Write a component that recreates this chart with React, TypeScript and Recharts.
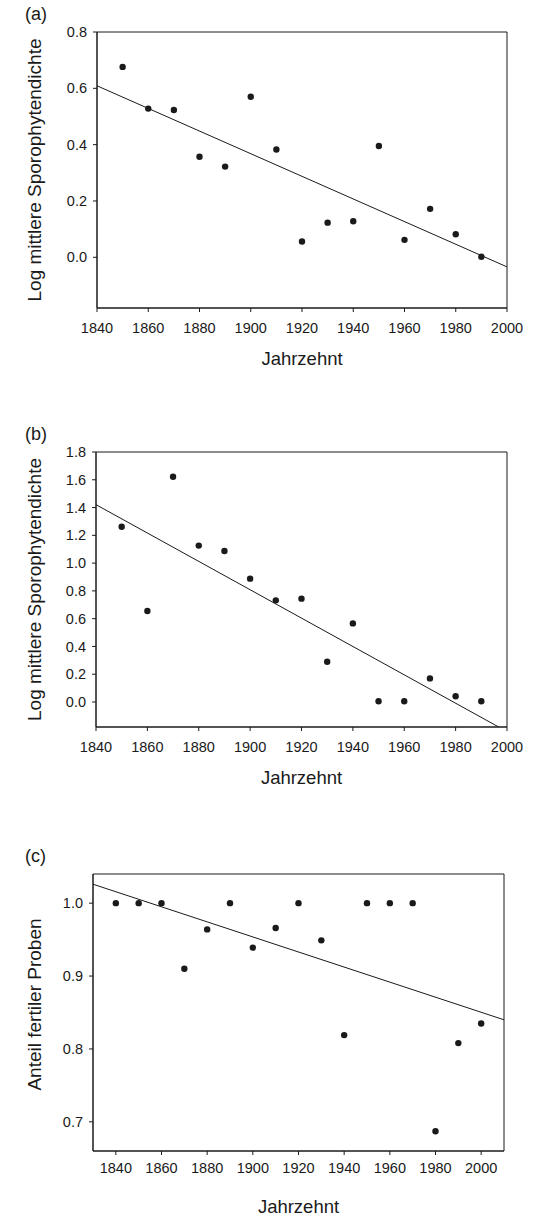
import React from 'react'
import {
  ScatterChart,
  Scatter,
  XAxis,
  YAxis,
  ReferenceLine,
  ReferenceArea,
  Label
} from 'recharts'

// panel (a)
const decadesA = [1850, 1860, 1870, 1880, 1890, 1900, 1910, 1920, 1930, 1940, 1950, 1960, 1970, 1980, 1990]
const densityA = [0.676, 0.528, 0.523, 0.357, 0.322, 0.57, 0.383, 0.056, 0.123, 0.128, 0.395, 0.062, 0.172, 0.082, 0.002]
const fitYearsA = [1840, 2000]
const fitValuesA = [0.609, -0.034]
const yTicksA = [0, 0.2, 0.4, 0.6, 0.8]

// panel (b)
const decadesB = [1850, 1860, 1870, 1880, 1890, 1900, 1910, 1920, 1930, 1940, 1950, 1960, 1970, 1980, 1990]
const densityB = [1.262, 0.655, 1.622, 1.126, 1.087, 0.888, 0.732, 0.744, 0.29, 0.566, 0.005, 0.005, 0.17, 0.041, 0.005]
const fitYearsB = [1840, 2000]
const fitValuesB = [1.421, -0.213]
const yTicksB = [0, 0.2, 0.4, 0.6, 0.8, 1.0, 1.2, 1.4, 1.6, 1.8]

// panel (c)
const decadesC = [1840, 1850, 1860, 1870, 1880, 1890, 1900, 1910, 1920, 1930, 1940, 1950, 1960, 1970, 1980, 1990, 2000]
const fertileC = [1.0, 1.0, 1.0, 0.91, 0.964, 1.0, 0.939, 0.966, 1.0, 0.949, 0.819, 1.0, 1.0, 1.0, 0.687, 0.808, 0.835]
const fitYearsC = [1830, 2010]
const fitValuesC = [1.026, 0.84]
const yTicksC = [0.7, 0.8, 0.9, 1.0]

const xTicks = [1840, 1860, 1880, 1900, 1920, 1940, 1960, 1980, 2000]

const FONT = '"Liberation Sans", Arial, sans-serif'
const INK = '#1a1a1a'

const Dot = (props: any) => <circle cx={props.cx} cy={props.cy} r={3.2} fill={INK} />

type PanelProps = {
  tag: string
  top: number
  yLabel: string
  xs: number[]
  ys: number[]
  fitX: number[]
  fitY: number[]
  xDomain: [number, number]
  yDomain: [number, number]
  yTicks: number[]
  plotLeft: number
  plotRight: number
  plotHeight: number
  xTickGap: number
  xLabelOffset: number
  yLabelShift: number
}

const Panel = (p: PanelProps) => {
  const data = p.xs.map((x, i) => ({ x, y: p.ys[i] }))
  const marginTop = 32
  const axisH = 70
  const yTitle = (props: any) => {
    const vb = props.viewBox || {}
    const cx = 34
    const cy = (vb.y ?? marginTop) + (vb.height ?? p.plotHeight) / 2 - p.yLabelShift
    return (
      <text
        x={cx}
        y={cy}
        transform={`rotate(-90, ${cx}, ${cy})`}
        textAnchor="middle"
        dominantBaseline="central"
        fontSize={19}
        fontFamily={FONT}
        fill={INK}
      >
        {p.yLabel}
      </text>
    )
  }
  return (
    <div style={{ position: 'absolute', left: 0, top: p.top }}>
      <div style={{ position: 'absolute', left: 25, top: 3, fontFamily: FONT, fontSize: 18, color: INK, lineHeight: '22px' }}>
        {p.tag}
      </div>
      <ScatterChart
        width={537}
        height={marginTop + p.plotHeight + axisH}
        margin={{ top: marginTop, right: 537 - p.plotRight, bottom: 0, left: 0 }}
      >
        <XAxis
          type="number"
          dataKey="x"
          domain={p.xDomain}
          ticks={xTicks}
          allowDataOverflow
          height={axisH}
          tickSize={4}
          tickMargin={p.xTickGap}
          stroke={INK}
          tick={{ fill: INK, fontSize: 14.5, fontFamily: FONT }}
        >
          <Label value="Jahrzehnt" position="insideBottom" offset={p.xLabelOffset} style={{ fontSize: 18.5, fontFamily: FONT, fill: INK }} />
        </XAxis>
        <YAxis
          type="number"
          dataKey="y"
          domain={p.yDomain}
          ticks={p.yTicks}
          allowDataOverflow
          width={p.plotLeft}
          tickSize={4}
          tickMargin={6}
          stroke={INK}
          tickFormatter={(v: number) => v.toFixed(1)}
          tick={{ fill: INK, fontSize: 14.5, fontFamily: FONT }}
        >
          <Label content={yTitle} />
        </YAxis>
        <ReferenceArea
          x1={p.xDomain[0]}
          x2={p.xDomain[1]}
          y1={p.yDomain[0]}
          y2={p.yDomain[1]}
          fill="none"
          stroke={INK}
          strokeWidth={1}
        />
        <ReferenceLine
          segment={[
            { x: p.fitX[0], y: p.fitY[0] },
            { x: p.fitX[1], y: p.fitY[1] }
          ]}
          stroke={INK}
          strokeWidth={1}
          ifOverflow="hidden"
        />
        <Scatter data={data} shape={Dot} isAnimationActive={false} />
      </ScatterChart>
    </div>
  )
}

export default function App() {
  return (
    <div style={{ position: 'absolute', left: 0, top: 0, width: 537, height: 1217, background: '#fff' }}>
      <Panel
        tag="(a)"
        top={0}
        yLabel="Log mittlere Sporophytendichte"
        xs={decadesA}
        ys={densityA}
        fitX={fitYearsA}
        fitY={fitValuesA}
        xDomain={[1840, 2000]}
        yDomain={[-0.18, 0.8]}
        yTicks={yTicksA}
        plotLeft={97}
        plotRight={507}
        plotHeight={276}
        xTickGap={11}
        xLabelOffset={13}
        yLabelShift={0}
      />
      <Panel
        tag="(b)"
        top={420}
        yLabel="Log mittlere Sporophytendichte"
        xs={decadesB}
        ys={densityB}
        fitX={fitYearsB}
        fitY={fitValuesB}
        xDomain={[1840, 2000]}
        yDomain={[-0.18, 1.8]}
        yTicks={yTicksB}
        plotLeft={96}
        plotRight={507}
        plotHeight={275}
        xTickGap={11}
        xLabelOffset={13}
        yLabelShift={0}
      />
      <Panel
        tag="(c)"
        top={842}
        yLabel="Anteil fertiler Proben"
        xs={decadesC}
        ys={fertileC}
        fitX={fitYearsC}
        fitY={fitValuesC}
        xDomain={[1830, 2010]}
        yDomain={[0.66, 1.04]}
        yTicks={yTicksC}
        plotLeft={93}
        plotRight={504}
        plotHeight={277}
        xTickGap={8}
        xLabelOffset={8}
        yLabelShift={8}
      />
    </div>
  )
}
